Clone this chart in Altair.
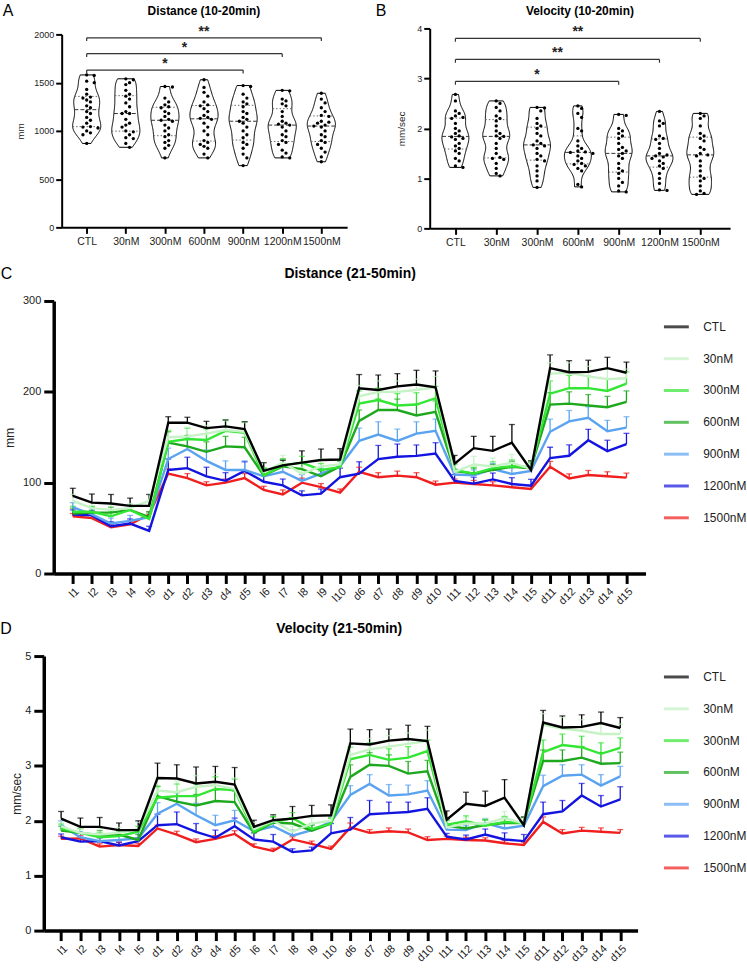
import json
import numpy as np
import pandas as pd
import altair as alt

FONT = "Liberation Sans"
groups = ["CTL", "30nM", "300nM", "600nM", "900nM", "1200nM", "1500nM"]
line_colors = ["#000000", "#c6f2c6", "#33e633", "#1ea81e", "#5aa3f0", "#1414e0", "#f01e1e"]
phases = ["l1", "l2", "l3", "l4", "l5", "d1", "d2", "d3", "d4", "d5",
          "l6", "l7", "l8", "l9", "l10", "d6", "d7", "d8", "d9", "d10",
          "l11", "l12", "l13", "l14", "l15", "d11", "d12", "d13", "d14", "d15"]

# ---------------- Panel A: distance 10-20 min (mm) ----------------
distA_CTL = [1580, 1575, 1515, 1500, 1430, 1380, 1350, 1340, 1320, 1300, 1260, 1240,
             1200, 1180, 1140, 1110, 1080, 1045, 1040, 1030, 1000, 980, 960, 870]
distA_30 = [1540, 1530, 1500, 1480, 1420, 1380, 1360, 1330, 1290, 1250, 1200, 1180,
            1180, 1120, 1080, 1060, 1040, 1000, 990, 960, 930, 920, 870, 830]
distA_300 = [1460, 1455, 1340, 1300, 1270, 1250, 1240, 1200, 1180, 1150, 1120, 1110,
             1100, 1060, 1030, 1000, 960, 940, 900, 880, 850, 820, 720]
distA_600 = [1530, 1450, 1400, 1360, 1300, 1270, 1260, 1230, 1200, 1160, 1140, 1130,
             1120, 1080, 1040, 1000, 960, 900, 880, 860, 840, 820, 760, 720]
distA_900 = [1470, 1460, 1380, 1340, 1300, 1280, 1250, 1200, 1180, 1140, 1120, 1100,
             1080, 1040, 1000, 960, 930, 880, 860, 820, 760, 720, 640]
distA_1200 = [1420, 1415, 1330, 1310, 1280, 1260, 1200, 1150, 1100, 1080, 1070, 1060,
              1040, 1000, 960, 940, 900, 880, 860, 800, 770, 730, 720]
distA_1500 = [1390, 1330, 1290, 1240, 1200, 1160, 1150, 1100, 1090, 1080, 1060, 1050,
              1040, 1000, 960, 940, 900, 880, 860, 820, 780, 730, 680]

# ---------------- Panel B: velocity 10-20 min (mm/sec) ----------------
velB_CTL = [2.68, 2.55, 2.35, 2.30, 2.25, 2.22, 2.20, 2.10, 2.00, 1.95, 1.90, 1.85,
            1.83, 1.80, 1.78, 1.70, 1.65, 1.60, 1.55, 1.50, 1.40, 1.35, 1.25, 1.22]
velB_30 = [2.55, 2.50, 2.42, 2.35, 2.25, 2.20, 2.15, 2.05, 1.95, 1.90, 1.85, 1.84,
           1.80, 1.70, 1.60, 1.50, 1.42, 1.40, 1.38, 1.30, 1.20, 1.10, 1.05]
velB_300 = [2.42, 2.41, 2.35, 2.20, 2.10, 2.05, 2.00, 1.90, 1.85, 1.75, 1.70, 1.67,
            1.65, 1.60, 1.50, 1.45, 1.38, 1.35, 1.25, 1.15, 1.05, 0.95, 0.82]
velB_600 = [2.45, 2.40, 2.30, 2.22, 2.00, 1.95, 1.75, 1.65, 1.60, 1.55, 1.53, 1.52,
            1.50, 1.45, 1.40, 1.35, 1.30, 1.28, 1.25, 1.20, 1.15, 0.88, 0.83]
velB_900 = [2.28, 2.26, 2.00, 1.95, 1.90, 1.85, 1.80, 1.70, 1.62, 1.58, 1.55, 1.50,
            1.45, 1.40, 1.30, 1.20, 1.15, 1.10, 1.00, 0.92, 0.85, 0.75, 0.73]
velB_1200 = [2.34, 2.15, 2.10, 2.05, 1.85, 1.80, 1.78, 1.70, 1.60, 1.50, 1.47, 1.45,
             1.43, 1.40, 1.35, 1.30, 1.25, 1.20, 1.10, 1.00, 0.90, 0.77, 0.76]
velB_1500 = [2.30, 2.25, 2.20, 2.05, 1.90, 1.85, 1.80, 1.75, 1.62, 1.58, 1.50, 1.47,
             1.45, 1.35, 1.25, 1.15, 1.05, 1.00, 0.95, 0.85, 0.75, 0.70, 0.68]

# ---------------- Panel C: distance 21-50 min (mean, error) ----------------
distC_CTL = [85.4, 78, 77, 74.5, 74.5, 166, 166, 160, 162, 159, 113, 119, 122, 125, 125.5,
             204, 202, 206, 208, 205, 121, 138, 135, 144, 114, 226, 221.5, 222, 226, 221]
distC_30 = [80, 72, 70, 72, 80, 150, 151, 154, 158, 156, 112, 122, 110, 118, 120,
            195, 200, 200, 202, 205, 112, 120, 118, 122, 115, 220, 221, 217, 214, 215]
distC_300 = [68, 68, 63, 70, 60, 145, 148, 147, 157, 155, 108, 119, 122, 114, 117,
             187, 191, 185, 186, 193, 114, 110, 116, 118, 117, 198, 204, 204, 201, 209]
distC_600 = [66, 67, 67, 70, 62, 144, 140, 134, 140, 139, 108, 118, 115, 107, 118,
             168, 180, 180, 174, 178, 113, 110, 114, 117.5, 116, 186, 187, 185, 183, 189]
distC_900 = [73, 65, 55, 58, 62, 126, 137, 124, 114, 114, 107, 112, 102, 110, 118,
             146, 153, 146, 154, 157, 109, 108, 115, 109.5, 113, 156, 167.5, 171.5, 156.6, 160.6]
distC_1200 = [65, 64, 52, 55, 47, 114, 116, 107, 102, 113, 101, 97, 86, 88, 106,
              110, 126, 128.5, 129.5, 132, 102, 99, 103.6, 98.5, 96.7, 127, 129.6, 146.7, 134.7, 142.3]
distC_1500 = [63, 61, 51, 54, 65, 110, 105, 97, 100, 105, 92, 87, 100, 95, 89,
              112, 106, 107.7, 106, 97.8, 100, 98.5, 97, 95, 93, 117.5, 104.7, 108.4, 107, 105.5]

errC_CTL = [8.4, 9.5, 10, 8.5, 12.5, 6.6, 6, 7.5, 7, 8, 9, 5.5, 13, 12, 12,
            15, 16.5, 14, 15.7, 18, 9, 13, 16, 20, 10, 14.6, 12.8, 12.8, 12, 11.7]
errC_30 = [7, 6, 6, 5, 7, 9, 10, 9, 10, 10, 10, 8, 7, 8, 8,
           12, 12, 12, 12, 12, 8, 9, 9, 9, 8, 12, 11, 11, 11, 10]
errC_300 = [6, 6, 6, 5, 6, 12, 12, 12, 12, 12, 8, 7, 7, 7, 7,
            14, 13, 13, 13, 13, 7, 7, 7, 7, 7, 14, 14, 13, 13, 13]
errC_600 = [6, 6, 6, 5, 6, 12, 12, 11, 11, 11, 8, 8, 7, 6, 6,
            12, 12, 12, 12, 12, 7, 6, 6, 6, 6, 13, 13, 12, 12, 12]
errC_900 = [5, 6, 6, 6, 6, 12, 12, 12, 10, 10, 8, 7, 7, 6, 6,
            14, 14, 13, 13, 13, 6, 6, 6, 7, 6, 14, 12, 12, 12, 12]
errC_1200 = [5, 5, 5, 5, 5, 12, 12, 10, 9, 10, 7, 7, 5, 5, 10,
             13, 15, 14, 12, 12, 7, 7, 7, 7, 7, 12, 12, 12, 12, 12]
errC_1500 = [3, 3, 3, 3, 3, 5, 5, 4, 4, 5, 4, 5, 5, 4, 4,
             5, 5, 5, 5, 4, 4, 4, 4, 4, 4, 6, 5, 5, 5, 5]

# ---------------- Panel D: velocity 21-50 min (mean, error) ----------------
velD_CTL = [2.04, 1.89, 1.89, 1.83, 1.83, 2.78, 2.77, 2.68, 2.71, 2.66, 1.89, 2.01, 2.04, 2.09, 2.10,
            3.41, 3.39, 3.46, 3.49, 3.45, 2.02, 2.31, 2.27, 2.42, 1.92, 3.79, 3.70, 3.71, 3.78, 3.69]
velD_30 = [1.90, 1.78, 1.75, 1.78, 1.85, 2.55, 2.52, 2.62, 2.65, 2.58, 1.85, 2.00, 1.80, 1.95, 2.00,
           3.20, 3.30, 3.35, 3.40, 3.45, 1.88, 1.95, 1.95, 2.05, 1.95, 3.75, 3.68, 3.64, 3.58, 3.58]
velD_300 = [1.86, 1.78, 1.70, 1.72, 1.80, 2.42, 2.45, 2.45, 2.58, 2.56, 1.80, 1.98, 2.05, 1.85, 1.95,
            3.12, 3.20, 3.11, 3.15, 3.27, 1.93, 1.99, 1.91, 1.98, 1.96, 3.25, 3.38, 3.34, 3.22, 3.33]
velD_600 = [1.82, 1.78, 1.74, 1.75, 1.65, 2.45, 2.35, 2.28, 2.36, 2.34, 1.78, 1.97, 1.95, 1.82, 1.95,
            2.80, 3.02, 3.00, 2.86, 2.90, 1.91, 1.86, 1.92, 1.96, 1.96, 3.09, 3.09, 3.15, 3.04, 3.05]
velD_900 = [1.92, 1.70, 1.63, 1.65, 1.68, 2.13, 2.31, 2.10, 1.92, 2.01, 1.81, 1.90, 1.73, 1.83, 1.98,
            2.47, 2.67, 2.46, 2.48, 2.55, 1.84, 1.83, 1.96, 1.86, 1.91, 2.63, 2.82, 2.84, 2.64, 2.81]
velD_1200 = [1.70, 1.62, 1.63, 1.55, 1.63, 1.92, 1.94, 1.80, 1.69, 1.90, 1.66, 1.62, 1.43, 1.46, 1.77,
             1.84, 2.12, 2.14, 2.16, 2.22, 1.71, 1.66, 1.75, 1.66, 1.63, 2.12, 2.17, 2.46, 2.26, 2.39]
velD_1500 = [1.67, 1.68, 1.53, 1.56, 1.54, 1.86, 1.75, 1.61, 1.67, 1.76, 1.53, 1.45, 1.66, 1.58, 1.49,
             1.88, 1.78, 1.81, 1.79, 1.65, 1.67, 1.65, 1.64, 1.59, 1.56, 1.98, 1.77, 1.82, 1.80, 1.78]

errD_CTL = [0.13, 0.16, 0.17, 0.13, 0.17, 0.27, 0.25, 0.30, 0.28, 0.31, 0.12, 0.10, 0.22, 0.19, 0.19,
            0.26, 0.27, 0.21, 0.25, 0.27, 0.16, 0.21, 0.27, 0.33, 0.15, 0.22, 0.21, 0.22, 0.20, 0.19]
errD_30 = [0.08, 0.08, 0.10, 0.10, 0.12, 0.22, 0.20, 0.20, 0.20, 0.20, 0.12, 0.10, 0.10, 0.10, 0.10,
           0.20, 0.20, 0.20, 0.20, 0.20, 0.10, 0.10, 0.10, 0.12, 0.10, 0.20, 0.20, 0.20, 0.20, 0.18]
errD_300 = [0.08, 0.08, 0.08, 0.08, 0.10, 0.20, 0.22, 0.22, 0.22, 0.20, 0.10, 0.10, 0.10, 0.10, 0.10,
            0.22, 0.22, 0.20, 0.20, 0.20, 0.10, 0.10, 0.10, 0.10, 0.10, 0.22, 0.20, 0.20, 0.20, 0.18]
errD_600 = [0.08, 0.08, 0.08, 0.08, 0.10, 0.18, 0.18, 0.20, 0.20, 0.20, 0.10, 0.10, 0.10, 0.10, 0.10,
            0.22, 0.22, 0.20, 0.22, 0.20, 0.10, 0.10, 0.10, 0.10, 0.10, 0.20, 0.20, 0.20, 0.20, 0.20]
errD_900 = [0.08, 0.10, 0.10, 0.10, 0.10, 0.20, 0.20, 0.22, 0.18, 0.18, 0.10, 0.10, 0.10, 0.10, 0.10,
            0.17, 0.17, 0.20, 0.17, 0.18, 0.08, 0.08, 0.08, 0.10, 0.08, 0.20, 0.20, 0.18, 0.20, 0.18]
errD_1200 = [0.06, 0.06, 0.06, 0.06, 0.06, 0.20, 0.22, 0.15, 0.14, 0.15, 0.12, 0.13, 0.06, 0.06, 0.18,
             0.22, 0.25, 0.20, 0.18, 0.20, 0.06, 0.08, 0.10, 0.12, 0.12, 0.22, 0.20, 0.22, 0.20, 0.23]
errD_1500 = [0.05, 0.05, 0.05, 0.05, 0.05, 0.06, 0.06, 0.06, 0.06, 0.06, 0.05, 0.05, 0.05, 0.05, 0.05,
             0.08, 0.06, 0.06, 0.06, 0.06, 0.05, 0.05, 0.05, 0.05, 0.05, 0.09, 0.07, 0.06, 0.07, 0.06]

# significance annotations: (compared group, star label)
sigA = [("900nM", "*"), ("1200nM", "*"), ("1500nM", "**")]
sigB = [("900nM", "*"), ("1200nM", "**"), ("1500nM", "**")]


def text_layer(txt, x, y, size, weight="normal", color="black"):
    return alt.Chart(pd.DataFrame({"t": [txt]})).mark_text(
        fontSize=size, fontWeight=weight, font=FONT, align="center",
        baseline="middle", color=color
    ).encode(x=alt.value(x), y=alt.value(y), text="t:N")


def swarm(vals, ypx, xpx, d=4.2):
    vals = np.asarray(vals, float)
    order = np.argsort(vals)[::-1]
    placed = []
    xs = np.zeros(len(vals))
    cands = [0.0]
    for j in range(1, 8):
        cands += [j * d * 0.9, -j * d * 0.9]
    for i in order:
        yp = vals[i] * ypx
        for c in cands:
            if all((c - px) ** 2 + (yp - py) ** 2 >= d * d for px, py in placed):
                break
        placed.append((c, yp))
        xs[i] = c / xpx
    return xs


def violin_panel(lists, bw, half, ymax, yvals, ytitle, title, letter, xr, yr,
                 xdom, sig, levels, drop, letter_xy, title_xy, ytitle_pad):
    # xr: pixel range of x axis inside view, yr: [bottom, top] pixel range of y axis
    width, height = xr[1], yr[0]
    ypx = (yr[0] - yr[1]) / ymax
    xpx = (xr[1] - xr[0]) / (xdom[1] - xdom[0])
    out_rows, q_rows, dot_rows = [], [], []
    for gi, (g, vals) in enumerate(zip(groups, lists)):
        v = np.asarray(vals, float)
        grid = np.linspace(v.min(), v.max(), 90)
        dens = np.exp(-0.5 * ((grid[:, None] - v[None, :]) / bw) ** 2).sum(1)
        dens = dens / dens.max()
        for yv, dv in zip(grid, dens):
            out_rows.append(dict(g=g, value=yv, left=gi - half * dv, right=gi + half * dv))
        for q, kind in zip(np.percentile(v, [25, 50, 75]), ["q", "m", "q"]):
            w = np.interp(q, grid, dens) * half
            q_rows.append(dict(g=g, value=q, left=gi - w, right=gi + w, kind=kind))
        for xv, yv in zip(swarm(v, ypx, xpx), v):
            dot_rows.append(dict(g=g, value=yv, xpos=gi + xv))
    out_df = pd.DataFrame(out_rows)
    q_df = pd.DataFrame(q_rows)
    dot_df = pd.DataFrame(dot_rows)
    br_rows = []
    for (tg, lab), lev in zip(sig, levels):
        ti = groups.index(tg)
        br_rows.append(dict(x1=0, x2=ti, xm=ti / 2.0, y=lev, yd=lev - drop, lab=lab))
    br_df = pd.DataFrame(br_rows)

    xscale = alt.Scale(domain=xdom, nice=False, zero=False, range=list(xr))
    yscale = alt.Scale(domain=[0, ymax], nice=False, range=list(yr))
    xaxis = alt.Axis(values=list(range(len(groups))), labelExpr=json.dumps(groups) + "[datum.value]",
                     title=None, grid=False, domainColor="black", domainWidth=2, tickColor="black",
                     tickWidth=2, tickSize=6, labelFontSize=10.5, labelColor="#222", labelPadding=3,
                     labelFont=FONT, labelFlush=False, labelOverlap=False)
    yaxis = alt.Axis(values=yvals, title=ytitle, grid=False, domainColor="black", domainWidth=2,
                     tickColor="black", tickWidth=2, tickSize=6, labelFontSize=9, format="d",
                     labelColor="#222", labelPadding=2, labelFont=FONT, titleFont=FONT,
                     titleFontSize=10, titleFontWeight="normal", titleColor="#222",
                     titlePadding=ytitle_pad, offset=-xr[0])

    def X(f):
        return alt.X(f, scale=xscale, axis=xaxis)

    def Y(f):
        return alt.Y(f, scale=yscale, axis=yaxis)

    outline = alt.Chart(out_df).mark_area(orient="horizontal", fill="white", stroke="black",
                                          strokeWidth=1, interpolate="monotone").encode(
        y=Y("value:Q"), x=X("left:Q"), x2="right:Q", detail="g:N")
    med = alt.Chart(q_df).transform_filter("datum.kind == 'm'").mark_rule(
        color="#333", strokeWidth=1, strokeDash=[4, 2]).encode(
        y=Y("value:Q"), x=X("left:Q"), x2="right:Q")
    qrt = alt.Chart(q_df).transform_filter("datum.kind == 'q'").mark_rule(
        color="#666", strokeWidth=1, strokeDash=[1.5, 2]).encode(
        y=Y("value:Q"), x=X("left:Q"), x2="right:Q")
    dots = alt.Chart(dot_df).mark_circle(size=11, color="black", opacity=1).encode(
        y=Y("value:Q"), x=X("xpos:Q"))
    hbar = alt.Chart(br_df).mark_rule(color="#333", strokeWidth=1.2).encode(
        x=X("x1:Q"), x2="x2:Q", y=Y("y:Q"))
    lend = alt.Chart(br_df).mark_rule(color="#333", strokeWidth=1.2).encode(
        x=X("x1:Q"), y=Y("y:Q"), y2="yd:Q")
    rend = alt.Chart(br_df).mark_rule(color="#333", strokeWidth=1.2).encode(
        x=X("x2:Q"), y=Y("y:Q"), y2="yd:Q")
    stars = alt.Chart(br_df).mark_text(fontSize=14, fontWeight="bold", font=FONT, color="#222",
                                       baseline="alphabetic", dy=-2).encode(
        x=X("xm:Q"), y=Y("y:Q"), text="lab:N")
    return alt.layer(
        outline, qrt, med, dots, hbar, lend, rend, stars,
        text_layer(letter, letter_xy[0], letter_xy[1], 16),
        text_layer(title, title_xy[0], title_xy[1], 12, "bold"),
    ).properties(width=width, height=height)


def line_panel(means, errs, ymax, yvals, ytitle, title, letter, width, height, pad, xr,
               letter_xy, title_xy, legend_xy, ytitle_pad):
    rows = []
    for g, m, e in reversed(list(zip(groups, means, errs))):
        for p, mv, ev in zip(phases, m, e):
            rows.append(dict(phase=p, group=g, mean=mv, upper=mv + ev))
    df = pd.DataFrame(rows)
    cscale = alt.Scale(domain=groups, range=line_colors)
    xaxis = alt.Axis(title=None, labelAngle=315, labelFontSize=11, labelFont=FONT, labelColor="#222",
                     tickSize=10, tickWidth=3, tickColor="black", domainWidth=3.5,
                     domainColor="black", labelPadding=2, grid=False)
    yaxis = alt.Axis(values=yvals, title=ytitle, tickSize=10, tickWidth=3, tickColor="black",
                     domainWidth=3.5, domainColor="black", labelFontSize=11, labelFont=FONT,
                     labelColor="#222", labelPadding=3, titleFont=FONT, titleFontSize=12,
                     titleFontWeight="normal", titleColor="#222", titlePadding=ytitle_pad,
                     grid=False, offset=-xr[0])
    legend = alt.Legend(
        title=None, orient="none", legendX=legend_xy[0], legendY=legend_xy[1],
        symbolType="stroke", symbolSize=625, symbolStrokeWidth=3, labelFont=FONT,
        labelFontSize=12, labelColor="#222", labelOffset=13, rowPadding=12, padding=0)
    xscale = alt.Scale(type="point", padding=pad, range=list(xr))
    yscale = alt.Scale(domain=[0, ymax], nice=False)
    xenc = alt.X("phase:N", sort=phases, scale=xscale, axis=xaxis)
    cenc = alt.Color("group:N", scale=cscale, legend=legend)
    base = alt.Chart(df)
    stems = base.mark_rule(strokeWidth=1.3).encode(
        x=xenc, y=alt.Y("mean:Q", scale=yscale, axis=yaxis), y2="upper:Q", color=cenc)
    caps = base.mark_tick(size=6, thickness=1.3).encode(
        x=xenc, y=alt.Y("upper:Q", scale=yscale, axis=yaxis), color=cenc)
    lines = base.mark_line(strokeWidth=2.4).encode(
        x=xenc, y=alt.Y("mean:Q", scale=yscale, axis=yaxis), color=cenc)
    return alt.layer(
        stems, caps, lines,
        text_layer(letter, letter_xy[0], letter_xy[1], 16),
        text_layer(title, title_xy[0], title_xy[1], 14, "bold"),
    ).properties(width=width, height=height)


# common plot origin x = 43 (panel D); other panels shift their axes inside the view
panelA = violin_panel(
    [distA_CTL, distA_30, distA_300, distA_600, distA_900, distA_1200, distA_1500],
    bw=75, half=0.36, ymax=2000, yvals=[0, 500, 1000, 1500, 2000], ytitle="mm",
    title="Distance (10-20min)", letter="A", xr=(18, 305), yr=(200, 6), xdom=[-0.64, 6.66],
    sig=sigA, levels=[1630, 1800, 1965], drop=34, letter_xy=(-36, -18), title_xy=(161, -18),
    ytitle_pad=8)
panelB = violin_panel(
    [velB_CTL, velB_30, velB_300, velB_600, velB_900, velB_1200, velB_1500],
    bw=0.14, half=0.33, ymax=4, yvals=[0, 1, 2, 3, 4], ytitle="mm/sec",
    title="Velocity (10-20min)", letter="B", xr=(0, 302), yr=(201, 0), xdom=[-0.63, 6.73],
    sig=sigB, levels=[2.94, 3.38, 3.80], drop=0.066, letter_xy=(-49, -18), title_xy=(151, -18),
    ytitle_pad=10)
panelC = line_panel(
    [distC_CTL, distC_30, distC_300, distC_600, distC_900, distC_1200, distC_1500],
    [errC_CTL, errC_30, errC_300, errC_600, errC_900, errC_1200, errC_1500],
    ymax=300, yvals=[0, 100, 200, 300], ytitle="mm", title="Distance (21-50min)", letter="C",
    width=605, height=274, pad=1.03, xr=(10, 605), letter_xy=(-37.5, -27), title_xy=(308, -27),
    legend_xy=(622, 12), ytitle_pad=6)
panelD = line_panel(
    [velD_CTL, velD_30, velD_300, velD_600, velD_900, velD_1200, velD_1500],
    [errD_CTL, errD_30, errD_300, errD_600, errD_900, errD_1200, errD_1500],
    ymax=5, yvals=[0, 1, 2, 3, 4, 5], ytitle="mm/sec", title="Velocity (21-50min)", letter="D",
    width=597, height=276, pad=0.9, xr=(0, 597), letter_xy=(-38, -27), title_xy=(297, -27),
    legend_xy=(622, 7), ytitle_pad=1)

top = alt.concat(panelA, panelB, columns=2, spacing=28)
bottom = alt.concat(panelC, panelD, columns=1, spacing=15).resolve_scale(
    color="independent").resolve_legend(color="independent")
chart = alt.concat(top, bottom, columns=1, spacing=18).resolve_scale(
    color="independent").resolve_legend(color="independent").properties(
    padding={"left": 0, "top": 0, "right": 0, "bottom": 0}
).configure(font=FONT).configure_view(stroke=None)

chart.save("out.html", embed_options={"renderer": "svg", "actions": False})
